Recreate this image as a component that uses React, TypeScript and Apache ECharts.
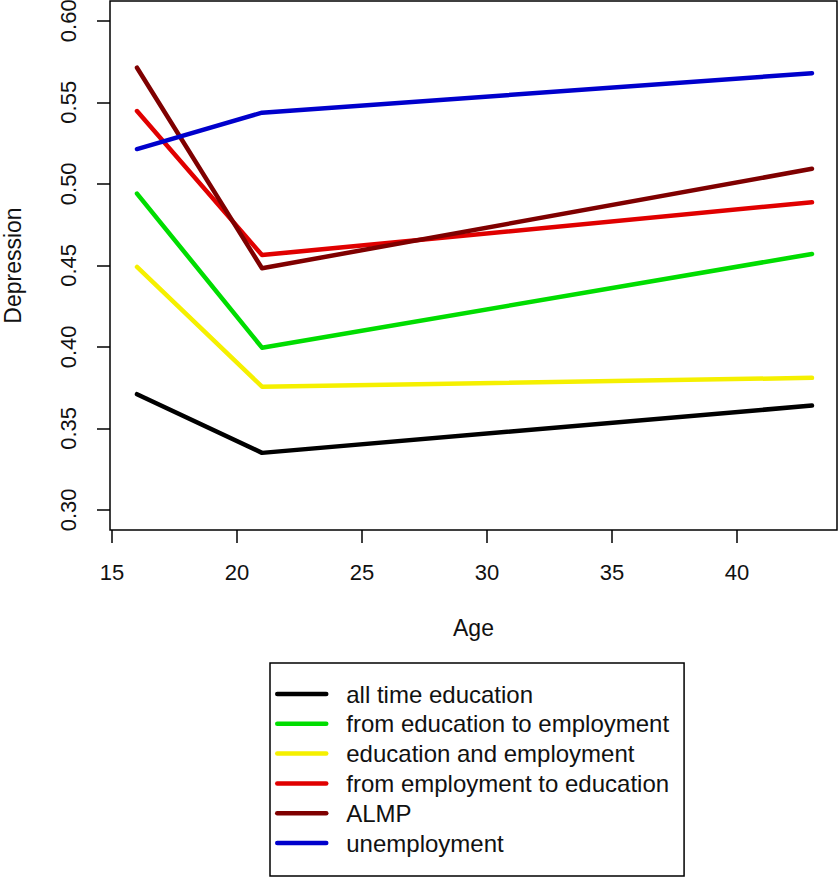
import React, { useEffect, useRef } from "react";
import * as echarts from "echarts";

const ages = [16, 21, 43];
const seriesNames = [
  "all time education",
  "from education to employment",
  "education and employment",
  "from employment to education",
  "ALMP",
  "unemployment",
];
const allTimeEducation = [0.371, 0.335, 0.364];
const educationToEmployment = [0.494, 0.3995, 0.457];
const educationAndEmployment = [0.449, 0.3756, 0.381];
const employmentToEducation = [0.5446, 0.4563, 0.4887];
const almp = [0.5712, 0.4482, 0.5092];
const unemployment = [0.5213, 0.5436, 0.5678];
const seriesValues = [
  allTimeEducation,
  educationToEmployment,
  educationAndEmployment,
  employmentToEducation,
  almp,
  unemployment,
];
const seriesColors = ["#000000", "#00dd00", "#f5f000", "#e00000", "#7f0000", "#0000cc"];
const xTicks = [15, 20, 25, 30, 35, 40];
const yTicks = [0.3, 0.35, 0.4, 0.45, 0.5, 0.55, 0.6];

const FONT = "'Liberation Sans', Arial, sans-serif";

export default function App() {
  const ref = useRef<HTMLDivElement>(null);
  useEffect(() => {
    if (!ref.current) return;
    const chart = echarts.init(ref.current, null, { renderer: "svg" });
    chart.setOption({
      animation: false,
      backgroundColor: "#ffffff",
      textStyle: { fontFamily: FONT },
      grid: {
        left: 110,
        right: 2,
        top: 1,
        bottom: 347,
        show: true,
        borderColor: "#000",
        borderWidth: 1.5,
        containLabel: false,
        outerBoundsMode: "none",
      },
      xAxis: {
        type: "value",
        min: 14.92,
        max: 44.0,
        name: "Age",
        nameLocation: "middle",
        nameGap: 86,
        nameTextStyle: { fontSize: 23, color: "#111", fontFamily: FONT },
        axisLine: { show: false },
        axisTick: {
          show: true,
          length: 13,
          lineStyle: { color: "#000", width: 1.5 },
          customValues: xTicks,
        },
        axisLabel: {
          customValues: xTicks,
          fontSize: 22,
          color: "#111",
          margin: 31,
          fontFamily: FONT,
        },
        splitLine: { show: false },
      },
      yAxis: {
        type: "value",
        min: 0.2877,
        max: 0.6121,
        name: "Depression",
        nameLocation: "middle",
        nameRotate: 90,
        nameGap: 86,
        nameTextStyle: { fontSize: 23, color: "#111", fontFamily: FONT },
        axisLine: { show: false },
        axisTick: {
          show: true,
          length: 13,
          lineStyle: { color: "#000", width: 1.5 },
          customValues: yTicks,
        },
        axisLabel: {
          customValues: yTicks,
          rotate: 90,
          fontSize: 22,
          color: "#111",
          margin: 31,
          fontFamily: FONT,
          formatter: (v: number) => v.toFixed(2),
        },
        splitLine: { show: false },
      },
      legend: {
        orient: "vertical",
        left: 270,
        top: 663,
        padding: [19, 15, 21, 5],
        itemWidth: 49,
        itemHeight: 20,
        itemGap: 5.8,
        borderColor: "#000",
        borderWidth: 1.5,
        itemStyle: { opacity: 0 },
        lineStyle: { width: 4.5, cap: "round" },
        textStyle: {
          fontSize: 24,
          lineHeight: 20,
          color: "#111",
          fontFamily: FONT,
          padding: [0, 0, 0, 15],
        },
        data: seriesNames,
      },
      series: seriesNames.map((name, i) => ({
        name,
        type: "line",
        data: ages.map((a, j) => [a, seriesValues[i][j]]),
        symbol: "none",
        color: seriesColors[i],
        lineStyle: { width: 4.5, color: seriesColors[i], cap: "round", join: "round" },
      })),
    });
    return () => chart.dispose();
  }, []);
  return (
    <div
      ref={ref}
      style={{ position: "absolute", left: 0, top: 0, width: 839, height: 877 }}
    />
  );
}
